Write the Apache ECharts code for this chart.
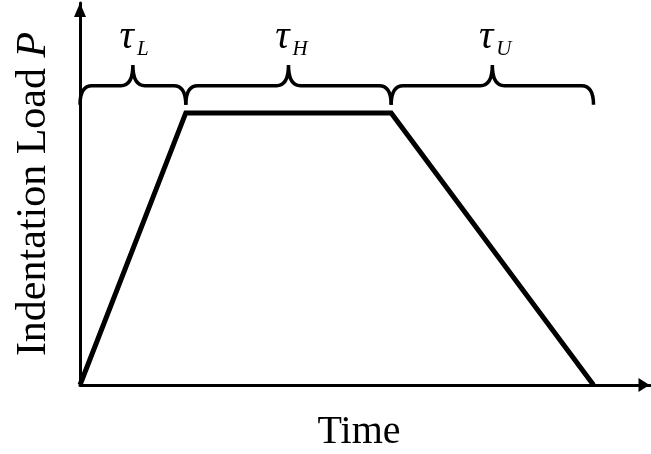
<!DOCTYPE html>
<html>
<head>
<meta charset="utf-8">
<script src="https://cdn.jsdelivr.net/npm/echarts@6/dist/echarts.min.js"></script>
<style>
  html, body { margin: 0; padding: 0; background: #ffffff; }
  #chart { width: 651px; height: 454px; }
</style>
</head>
<body>
<div id="chart"></div>
<script>
// Trapezoidal indentation load history: load, hold, unload
const times = [0, 1.03, 3.03, 5.0];
const loads = [0, 1.0, 1.0, 0];

// Phase braces drawn above the curve: [start time, end time, symbol, subscript]
const phaseStart = [0, 1.03, 3.03];
const phaseEnd = [1.03, 3.03, 5.0];
const phaseSymbol = ['τ', 'τ', 'τ'];
const phaseSub = ['L', 'H', 'U'];

// Load levels used for the braces
const braceEndLevel = 1.03;
const braceBarLevel = 1.10;
const braceTipLevel = 1.176;

const xMax = 5.55;
const yMax = 1.404;

const SERIF = '"Liberation Serif", "Times New Roman", serif';

const chart = echarts.init(document.getElementById('chart'), null, { renderer: 'canvas' });

const braceData = phaseStart.map((s, i) => [s, phaseEnd[i], phaseSymbol[i], phaseSub[i]]);

chart.setOption({
  backgroundColor: '#ffffff',
  animation: false,
  grid: { left: 80, right: 1, top: 3, bottom: 69, containLabel: false, outerBoundsMode: 'none' },
  xAxis: {
    type: 'value',
    min: 0,
    max: xMax,
    name: 'Time',
    nameLocation: 'middle',
    nameGap: 27,
    nameTextStyle: { fontFamily: SERIF, fontSize: 40, color: '#000', padding: [0, 12, 0, 0] },
    // arrow head pulled back so its tip sits at the axis end
    axisLine: { show: true, symbol: ['none', 'triangle'], symbolSize: [14, 11], symbolOffset: [0, -6], lineStyle: { color: '#000', width: 3 } },
    axisTick: { show: false },
    axisLabel: { show: false },
    splitLine: { show: false }
  },
  yAxis: {
    type: 'value',
    min: 0,
    max: yMax,
    name: '{n|Indentation Load }{p|P}',
    nameLocation: 'middle',
    nameGap: 25,
    nameRotate: 90,
    nameTextStyle: {
      rich: {
        n: { fontFamily: SERIF, fontSize: 42, color: '#000' },
        p: { fontFamily: SERIF, fontSize: 42, fontStyle: 'italic', color: '#000' }
      }
    },
    axisLine: { show: true, symbol: ['none', 'triangle'], symbolSize: [12, 14], symbolOffset: [0, -7], lineStyle: { color: '#000', width: 3 } },
    axisTick: { show: false },
    axisLabel: { show: false },
    splitLine: { show: false }
  },
  series: [
    {
      type: 'line',
      data: times.map((t, i) => [t, loads[i]]),
      symbol: 'none',
      lineStyle: { color: '#000', width: 5, join: 'miter' },
      z: 3
    },
    {
      type: 'custom',
      data: braceData,
      renderItem: function (params, api) {
        const t0 = api.value(0), t1 = api.value(1);
        const a = api.coord([t0, braceBarLevel]);
        const b = api.coord([t1, braceBarLevel]);
        const mid = api.coord([(t0 + t1) / 2, braceTipLevel]);
        const yEnd = api.coord([t0, braceEndLevel])[1];
        const yH = a[1];
        const yTip = mid[1];
        const m = mid[0];
        const r = 12;
        const d =
          'M' + a[0] + ',' + yEnd +
          ' Q' + a[0] + ',' + yH + ' ' + (a[0] + r) + ',' + yH +
          ' L' + (m - r) + ',' + yH +
          ' Q' + m + ',' + yH + ' ' + m + ',' + yTip +
          ' Q' + m + ',' + yH + ' ' + (m + r) + ',' + yH +
          ' L' + (b[0] - r) + ',' + yH +
          ' Q' + b[0] + ',' + yH + ' ' + b[0] + ',' + yEnd;
        const sym = braceData[params.dataIndex][2];
        const sub = braceData[params.dataIndex][3];
        return {
          type: 'group',
          children: [
            {
              type: 'path',
              shape: { pathData: d },
              style: { fill: 'none', stroke: '#000', lineWidth: 3.5 }
            },
            {
              type: 'text',
              x: m + 1,
              y: yTip - 28,
              style: {
                text: sym,
                font: 'italic 40px ' + SERIF,
                fill: '#000',
                align: 'right',
                verticalAlign: 'middle'
              }
            },
            {
              type: 'text',
              x: m + 4,
              y: yTip - 16,
              style: {
                text: sub,
                font: 'italic 21px ' + SERIF,
                fill: '#000',
                align: 'left',
                verticalAlign: 'middle'
              }
            }
          ]
        };
      },
      z: 4
    }
  ]
});
</script>
</body>
</html>
